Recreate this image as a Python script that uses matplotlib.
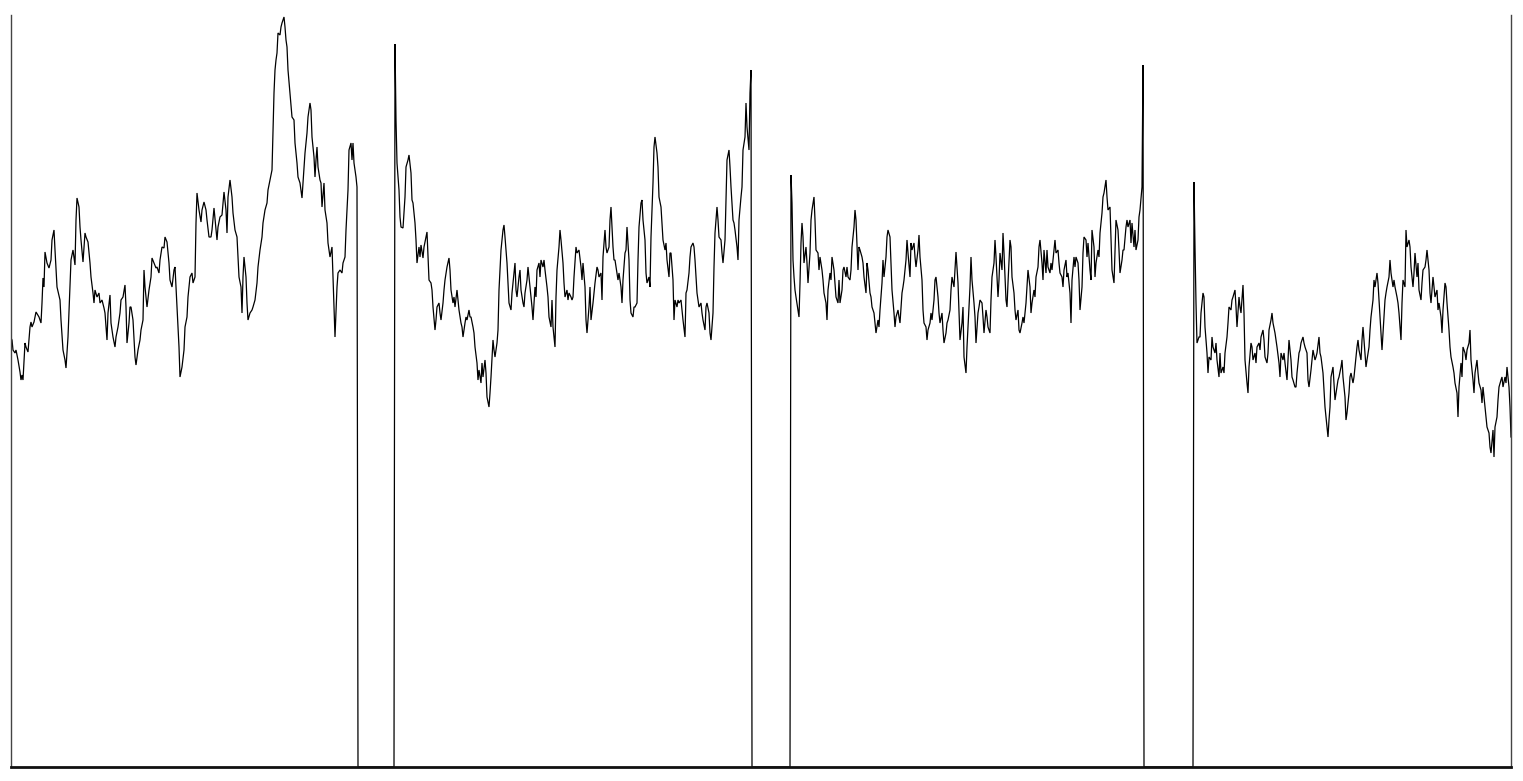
"""Noisy signal trace with four bursts separated by dropouts to zero.

Values were read off the reference picture; x is the sample index,
y the signal level (0 = baseline, axis top at 752).
"""
import matplotlib
matplotlib.use("Agg")
import matplotlib.pyplot as plt

# ────────────────────────  burst 1 (+ dropout)  ────────────────────────
SEG1_X = [0, 1, 2, 4, 5, 7, 9, 10, 11, 12, 14, 15, 17, 19, 20, 21, 23, 25, 28, 30,
          31, 32, 33, 34, 36, 38, 40, 41, 43, 44, 46, 49, 50, 52, 54, 55, 57, 59, 60, 62,
          64, 65, 66, 68, 69, 70, 72, 74, 75, 77, 79, 80, 82, 83, 84, 86, 88, 89, 91, 93,
          94, 96, 97, 99, 100, 102, 104, 105, 107, 109, 110, 112, 114, 115, 116, 118, 119, 120, 122, 124,
          125, 127, 129, 130, 132, 133, 134, 136, 138, 140, 141, 143, 145, 146, 148, 149, 151, 153, 154, 156,
          158, 159, 161, 163, 164, 166, 168, 169, 171, 173, 174, 176, 177, 179, 181, 182, 184, 185, 186, 188,
          190, 191, 193, 195, 196, 198, 200, 201, 203, 205, 206, 207, 209, 211, 212, 213, 215, 216, 217, 219,
          221, 222, 224, 226, 227, 228, 230, 231, 232, 233, 235, 236, 237, 239, 241, 242, 244, 246, 247, 249,
          251, 252, 254, 256, 257, 259, 261, 262, 263, 264, 265, 266, 267, 269, 270, 271, 273, 274, 275, 276,
          277, 279, 281, 283, 284, 286, 287, 289, 291, 292, 294, 296, 297, 299, 300, 301, 303, 304, 305, 306,
          307, 309, 310, 311, 313, 314, 316, 317, 319, 321, 322, 323, 324, 326, 327, 329, 331, 332, 334, 335,
          337, 338, 340, 341, 342, 343, 345, 346, 347, 383]
SEG1_Y = [429, 427, 417, 414, 417, 407, 395, 387, 392, 387, 424, 420, 415, 440, 445, 440, 445, 455, 450, 444,
          464, 489, 480, 515, 504, 499, 507, 527, 537, 517, 480, 467, 447, 417, 407, 399, 430, 480, 507, 517,
          502, 547, 569, 560, 540, 527, 505, 534, 530, 525, 504, 490, 474, 464, 477, 470, 474, 464, 467, 459,
          454, 427, 454, 472, 444, 430, 420, 430, 440, 454, 467, 470, 482, 460, 424, 444, 460, 460, 447, 410,
          402, 417, 427, 437, 447, 497, 480, 460, 477, 490, 509, 504, 499, 500, 494, 507, 520, 519, 530, 525,
          504, 487, 480, 497, 500, 460, 420, 390, 400, 417, 440, 450, 470, 490, 494, 484, 490, 544, 574, 557,
          545, 557, 565, 557, 547, 530, 530, 537, 559, 537, 527, 540, 550, 552, 564, 575, 557, 534, 570, 587,
          570, 554, 537, 530, 510, 490, 480, 454, 490, 510, 490, 464, 447, 454, 457, 460, 467, 484, 500, 517,
          530, 544, 557, 564, 577, 587, 597, 637, 674, 697, 707, 714, 734, 732, 740, 744, 750, 740, 727, 720,
          697, 674, 650, 647, 624, 604, 590, 584, 569, 584, 614, 634, 650, 664, 657, 630, 610, 590, 607, 620,
          600, 587, 584, 560, 584, 557, 544, 524, 510, 520, 490, 457, 430, 480, 494, 497, 494, 504, 510, 537,
          577, 617, 624, 607, 624, 604, 590, 580, 0, 0]

# ────────────────────────  burst 2 (+ dropout)  ────────────────────────
SEG2_X = [384, 385, 386, 388, 389, 390, 392, 394, 395, 397, 398, 400, 401, 402, 404, 405, 406, 408, 409, 410,
          412, 413, 415, 416, 417, 418, 420, 421, 422, 424, 425, 426, 428, 429, 430, 432, 433, 434, 436, 438,
          439, 440, 442, 443, 444, 446, 447, 448, 450, 451, 452, 454, 455, 456, 458, 459, 460, 462, 463, 464,
          466, 467, 468, 470, 471, 472, 474, 475, 476, 478, 479, 480, 482, 483, 484, 486, 487, 488, 489, 490,
          492, 493, 494, 496, 497, 498, 500, 501, 502, 504, 505, 506, 508, 509, 510, 512, 513, 514, 516, 517,
          518, 520, 521, 522, 524, 525, 526, 528, 529, 530, 532, 533, 534, 536, 537, 538, 540, 541, 542, 544,
          545, 546, 548, 549, 550, 552, 553, 554, 556, 557, 558, 560, 561, 562, 563, 565, 566, 568, 570, 571,
          572, 574, 575, 576, 578, 579, 580, 582, 583, 584, 586, 587, 588, 590, 591, 592, 594, 595, 596, 598,
          599, 600, 602, 603, 604, 606, 607, 608, 610, 611, 612, 614, 615, 616, 618, 619, 620, 622, 623, 624,
          626, 627, 628, 630, 631, 632, 634, 635, 636, 638, 639, 640, 642, 643, 644, 646, 647, 648, 650, 651,
          652, 654, 655, 656, 658, 659, 660, 662, 663, 664, 666, 667, 668, 670, 671, 672, 674, 675, 676, 678,
          679, 680, 682, 683, 684, 686, 687, 688, 690, 691, 692, 694, 695, 696, 698, 699, 700, 702, 703, 704,
          706, 707, 708, 710, 711, 712, 714, 715, 716, 718, 719, 720, 722, 723, 724, 726, 727, 728, 730, 731,
          732, 734, 735, 736, 738, 739, 740, 741, 779]
SEG2_Y = [723, 647, 604, 577, 550, 540, 539, 570, 600, 607, 612, 594, 567, 564, 544, 527, 504, 520, 510, 522,
          509, 520, 530, 535, 510, 487, 484, 477, 460, 437, 447, 460, 464, 454, 447, 464, 477, 487, 500, 509,
          497, 477, 464, 470, 460, 477, 467, 457, 444, 440, 430, 444, 450, 447, 457, 450, 450, 440, 434, 420,
          404, 387, 397, 384, 404, 390, 407, 394, 370, 360, 374, 390, 427, 417, 410, 424, 437, 477, 497, 517,
          537, 542, 530, 504, 484, 464, 457, 474, 484, 504, 477, 470, 490, 497, 477, 464, 460, 474, 487, 500,
          490, 470, 460, 447, 480, 470, 497, 504, 490, 507, 500, 507, 497, 480, 470, 450, 440, 467, 440, 420,
          470, 497, 520, 537, 527, 504, 484, 470, 477, 467, 474, 470, 467, 470, 490, 520, 514, 517, 500, 487,
          504, 480, 447, 434, 460, 480, 447, 464, 474, 484, 500, 497, 490, 494, 467, 510, 537, 520, 514, 520,
          547, 560, 520, 507, 507, 494, 487, 494, 480, 464, 487, 514, 517, 540, 507, 467, 454, 450, 460, 460,
          464, 507, 540, 564, 567, 547, 527, 494, 484, 490, 480, 530, 584, 620, 630, 614, 600, 570, 560, 544,
          527, 517, 524, 507, 490, 514, 514, 487, 447, 467, 460, 467, 464, 467, 457, 447, 430, 474, 477, 494,
          510, 520, 524, 520, 507, 474, 467, 460, 464, 454, 447, 437, 460, 464, 454, 434, 427, 454, 500, 534,
          560, 547, 530, 527, 514, 504, 527, 567, 607, 617, 600, 580, 547, 544, 537, 520, 507, 547, 570, 580,
          617, 630, 664, 640, 617, 674, 697, 0, 0]

# ────────────────────────  burst 3 (+ dropout)  ────────────────────────
SEG3_X = [780, 781, 782, 783, 784, 785, 787, 788, 789, 790, 791, 792, 793, 795, 796, 797, 799, 800, 801, 803,
          804, 805, 807, 808, 809, 811, 812, 813, 815, 816, 817, 819, 820, 821, 823, 824, 825, 827, 828, 829,
          831, 832, 833, 835, 836, 837, 839, 840, 841, 843, 844, 845, 847, 848, 849, 851, 852, 853, 855, 856,
          857, 859, 860, 861, 863, 864, 865, 867, 868, 869, 871, 872, 873, 875, 876, 877, 879, 880, 881, 883,
          884, 885, 887, 888, 889, 891, 892, 893, 895, 896, 897, 899, 900, 901, 903, 904, 905, 907, 908, 909,
          911, 912, 913, 915, 916, 917, 919, 920, 921, 923, 924, 925, 927, 928, 929, 931, 932, 933, 935, 936,
          937, 939, 940, 941, 943, 944, 945, 947, 948, 949, 951, 952, 953, 955, 956, 957, 959, 960, 961, 963,
          964, 965, 967, 968, 969, 971, 972, 973, 975, 976, 977, 979, 980, 981, 983, 984, 985, 987, 988, 989,
          991, 992, 993, 995, 996, 997, 999, 1000, 1001, 1003, 1004, 1005, 1007, 1008, 1009, 1011, 1012, 1013, 1015, 1016,
          1017, 1019, 1020, 1021, 1023, 1024, 1025, 1027, 1028, 1029, 1031, 1032, 1033, 1035, 1036, 1037, 1039, 1040, 1041, 1043,
          1044, 1045, 1047, 1048, 1049, 1051, 1052, 1053, 1055, 1056, 1057, 1059, 1060, 1061, 1063, 1064, 1065, 1067, 1068, 1069,
          1071, 1072, 1073, 1075, 1076, 1077, 1079, 1080, 1081, 1083, 1084, 1085, 1087, 1088, 1089, 1091, 1092, 1093, 1095, 1096,
          1097, 1099, 1100, 1101, 1103, 1104, 1105, 1107, 1108, 1109, 1111, 1112, 1113, 1115, 1116, 1117, 1119, 1120, 1121, 1123,
          1124, 1125, 1127, 1128, 1129, 1131, 1132, 1133, 1182]
SEG3_Y = [592, 564, 507, 490, 477, 470, 457, 450, 484, 524, 544, 530, 504, 520, 504, 484, 514, 547, 557, 570,
          547, 517, 514, 497, 510, 497, 487, 474, 464, 447, 477, 494, 487, 510, 497, 484, 470, 464, 487, 464,
          477, 497, 500, 490, 500, 490, 487, 497, 520, 540, 557, 547, 497, 520, 517, 510, 504, 490, 474, 504,
          497, 474, 470, 460, 454, 444, 434, 447, 440, 457, 484, 507, 490, 510, 530, 537, 530, 504, 477, 454,
          440, 450, 457, 450, 444, 474, 480, 487, 507, 527, 514, 490, 524, 517, 524, 510, 500, 517, 532, 510,
          487, 457, 444, 440, 427, 437, 444, 454, 447, 467, 487, 490, 470, 454, 444, 454, 437, 424, 434, 444,
          447, 457, 477, 490, 480, 497, 515, 484, 457, 427, 444, 460, 410, 394, 420, 440, 480, 510, 487, 464,
          450, 424, 454, 460, 467, 464, 450, 434, 457, 450, 440, 434, 467, 490, 504, 527, 510, 470, 487, 514,
          497, 534, 514, 467, 460, 484, 527, 520, 490, 474, 457, 447, 457, 437, 434, 444, 450, 444, 464, 480,
          497, 480, 454, 464, 477, 470, 490, 500, 520, 527, 504, 487, 517, 494, 517, 500, 494, 504, 497, 517,
          527, 514, 517, 504, 494, 490, 480, 497, 507, 490, 494, 474, 444, 487, 510, 500, 510, 504, 487, 457,
          480, 514, 530, 527, 510, 524, 497, 487, 537, 520, 490, 504, 517, 510, 534, 554, 570, 574, 587, 570,
          557, 560, 530, 497, 484, 514, 547, 537, 517, 494, 507, 517, 517, 540, 547, 540, 547, 524, 544, 520,
          537, 517, 527, 550, 557, 580, 702, 0, 0]

# ────────────────────────  burst 4  ────────────────────────
SEG4_X = [1183, 1184, 1185, 1186, 1188, 1189, 1190, 1192, 1193, 1194, 1196, 1197, 1198, 1200, 1201, 1202, 1204, 1205, 1206, 1208,
          1209, 1210, 1212, 1213, 1214, 1216, 1217, 1218, 1220, 1221, 1222, 1224, 1225, 1226, 1228, 1229, 1230, 1232, 1233, 1234,
          1236, 1237, 1238, 1240, 1241, 1242, 1244, 1245, 1246, 1248, 1249, 1250, 1252, 1253, 1254, 1256, 1257, 1258, 1260, 1261,
          1262, 1264, 1265, 1266, 1268, 1269, 1270, 1272, 1273, 1274, 1276, 1277, 1278, 1280, 1281, 1282, 1284, 1285, 1286, 1288,
          1289, 1290, 1292, 1293, 1294, 1296, 1297, 1298, 1300, 1301, 1302, 1304, 1305, 1306, 1308, 1309, 1310, 1312, 1313, 1314,
          1316, 1317, 1318, 1319, 1320, 1322, 1323, 1324, 1326, 1327, 1328, 1330, 1331, 1332, 1334, 1335, 1336, 1338, 1339, 1340,
          1342, 1343, 1344, 1346, 1347, 1348, 1350, 1351, 1352, 1354, 1355, 1356, 1358, 1359, 1360, 1362, 1363, 1364, 1366, 1367,
          1368, 1370, 1371, 1372, 1374, 1375, 1376, 1378, 1379, 1380, 1382, 1383, 1384, 1386, 1387, 1388, 1390, 1391, 1392, 1394,
          1395, 1396, 1398, 1399, 1400, 1402, 1403, 1404, 1406, 1407, 1408, 1410, 1411, 1412, 1414, 1415, 1416, 1418, 1419, 1420,
          1422, 1423, 1424, 1426, 1427, 1428, 1430, 1431, 1432, 1434, 1435, 1436, 1438, 1439, 1440, 1442, 1443, 1444, 1446, 1447,
          1448, 1450, 1451, 1452, 1454, 1455, 1456, 1458, 1459, 1460, 1462, 1463, 1464, 1466, 1467, 1468, 1470, 1471, 1472, 1474,
          1475, 1476, 1478, 1479, 1480, 1482, 1483, 1484, 1486, 1487, 1488, 1490, 1491, 1492, 1494, 1495, 1496, 1498, 1499, 1500]
SEG4_Y = [585, 520, 464, 424, 430, 430, 454, 474, 470, 440, 414, 394, 410, 407, 430, 420, 414, 424, 407, 390,
          414, 394, 400, 394, 414, 430, 444, 460, 457, 467, 470, 477, 460, 440, 470, 460, 454, 482, 454, 407,
          384, 374, 400, 424, 420, 407, 414, 404, 420, 424, 417, 430, 437, 427, 410, 404, 414, 437, 447, 454,
          444, 434, 427, 420, 404, 390, 414, 407, 414, 404, 387, 407, 427, 407, 390, 387, 380, 380, 394, 414,
          417, 424, 430, 424, 420, 414, 387, 380, 397, 407, 417, 407, 410, 414, 430, 414, 410, 394, 377, 360,
          340, 330, 347, 360, 390, 400, 384, 367, 380, 387, 390, 400, 407, 390, 370, 347, 354, 374, 390, 394,
          384, 390, 400, 420, 427, 417, 407, 427, 440, 414, 400, 407, 420, 437, 450, 467, 487, 480, 494, 484,
          467, 434, 417, 434, 467, 474, 480, 490, 507, 494, 480, 487, 480, 470, 464, 454, 427, 464, 487, 480,
          537, 520, 527, 520, 500, 480, 494, 514, 490, 504, 477, 467, 484, 497, 500, 507, 517, 497, 474, 464,
          490, 480, 470, 477, 457, 464, 450, 434, 457, 484, 480, 464, 437, 420, 410, 400, 394, 384, 374, 350,
          380, 404, 390, 420, 414, 407, 417, 424, 437, 407, 387, 374, 394, 407, 394, 384, 377, 364, 380, 360,
          350, 340, 334, 320, 314, 337, 310, 340, 350, 367, 380, 387, 390, 380, 390, 384, 400, 380, 360, 330]

Y_MAX = 752
X_MAX = 1500


def main() -> None:
    xs = SEG1_X + SEG2_X + SEG3_X + SEG4_X
    ys = SEG1_Y + SEG2_Y + SEG3_Y + SEG4_Y

    fig = plt.figure(figsize=(15.23, 7.81), dpi=100)
    ax = fig.add_axes([11 / 1523, 14 / 781, 1500 / 1523, 752 / 781])
    ax.plot(xs, ys, color="black", linewidth=0.9, solid_joinstyle="miter")

    ax.set_xlim(0, X_MAX)
    ax.set_ylim(0, Y_MAX)
    ax.set_xticks([])
    ax.set_yticks([])
    ax.spines["top"].set_visible(False)
    for side in ("left", "right"):
        ax.spines[side].set_color("#444")
        ax.spines[side].set_linewidth(1.0)
    ax.spines["bottom"].set_color("#111")
    ax.spines["bottom"].set_linewidth(2.0)

    fig.savefig("out.png", dpi=100, facecolor="white")
    plt.close(fig)


if __name__ == "__main__":
    main()
